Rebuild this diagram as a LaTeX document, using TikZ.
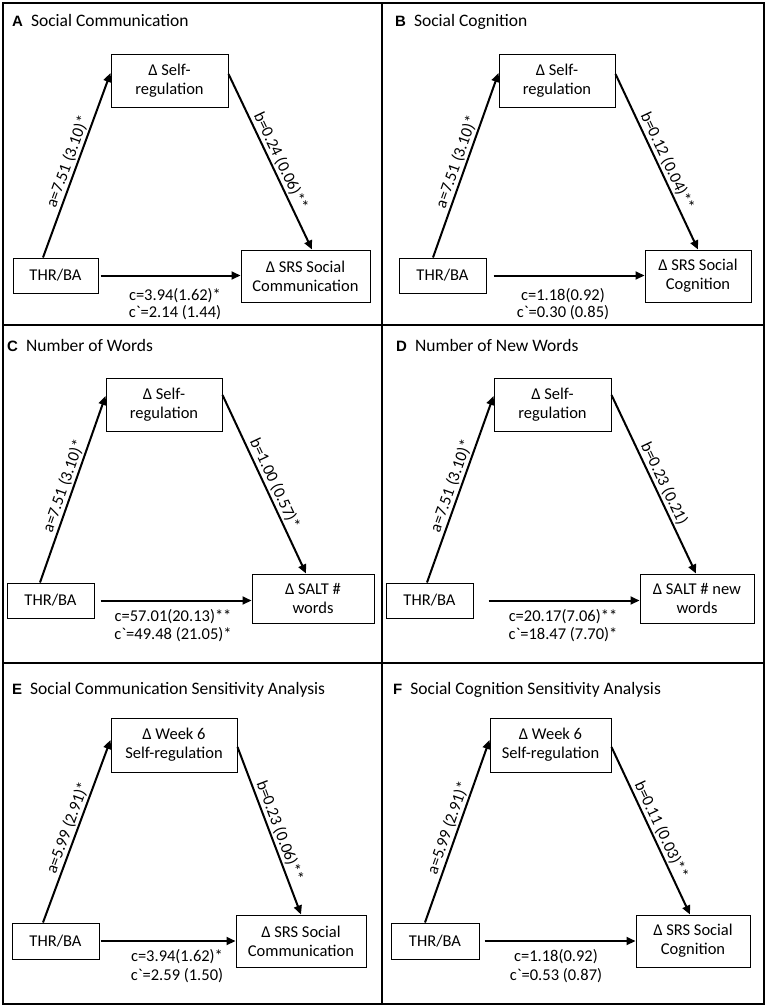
\documentclass[tikz,border=0pt]{standalone}
\usepackage{fontspec}
\setmainfont{Carlito}[Ligatures=TeXOff]
\newfontfamily\letfont{Liberation Sans}
\usetikzlibrary{arrows.meta}
\begin{document}
\begin{tikzpicture}[x=1pt,y=-1pt,
  box/.style={draw, line width=1pt, align=center, inner sep=0pt, font=\fontsize{16.5}{19}\selectfont},
  arr/.style={line width=2pt, -{Triangle[length=9pt,width=8pt]}},
  lab/.style={sloped, above, inner sep=1.5pt, font=\fontsize{16.5}{19.5}\selectfont},
  clab/.style={inner sep=0pt, font=\fontsize{16.5}{19.5}\selectfont},
  ttl/.style={anchor=base west, inner sep=0pt, font=\fontsize{17.5}{20}\selectfont},
  frame/.style={line width=1.5pt}]
\useasboundingbox (0,0) rectangle (767,1007);
% frame
\draw[frame] (3,3) rectangle (764,1004);
\draw[frame] (382,3) -- (382,1004);
\draw[frame] (3,325) -- (764,325);
\draw[frame] (3,663) -- (764,663);
\newcommand\tl[1]{{\letfont\fontsize{15}{17}\selectfont\bfseries #1}\hspace{8pt}}
% ===== A =====
\node[ttl] (tA) at (12,26) {\tl{A}Social Communication};
\node[box, minimum width=117pt, minimum height=53pt] (ma) at (169.5,80.5) {Δ Self-\\regulation};
\node[box, minimum width=85pt, minimum height=35pt] (ta) at (55.5,275.5) {THR/BA};
\node[box, minimum width=129pt, minimum height=52pt] (oa) at (305.5,276) {Δ SRS Social\\Communication};
\draw[arr] ([xshift=-12.5pt]ta.north) -- ([yshift=7.5pt]ma.west) node[lab,pos=0.5] (la) {a=7.51 (3.10)*};
\draw[arr] ([yshift=6.5pt]ma.east) -- ([xshift=6.5pt]oa.north) node[lab,pos=0.52] (lb) {b=0.24 (0.06)**};
\draw[arr, shorten <=2pt] (ta.east) -- (ta.east -| oa.west);
\node[clab] (ca1) at (175,296) {c=3.94(1.62)*};
\node[clab] (ca2) at (175,313) {c`=2.14 (1.44)};
% ===== B =====
\node[ttl] (tB) at (395,26) {\tl{B}Social Cognition};
\node[box, minimum width=116pt, minimum height=53pt] (mb) at (557,80.5) {Δ Self-\\regulation};
\node[box, minimum width=87pt, minimum height=35pt] (tb) at (442.5,275.5) {THR/BA};
\node[box, minimum width=106pt, minimum height=52pt] (ob) at (698,276) {Δ SRS Social\\Cognition};
\draw[arr] ([xshift=-9.5pt]tb.north) -- ([yshift=7.5pt]mb.west) node[lab,pos=0.5] (lbA) {a=7.51 (3.10)*};
\draw[arr] ([yshift=6.5pt]mb.east) -- (ob.north) node[lab,pos=0.52] (lbB) {b=0.12 (0.04)**};
\draw[arr, shorten <=7pt] (tb.east) -- (tb.east -| ob.west);
\node[clab] (cb1) at (563,296) {c=1.18(0.92)};
\node[clab] (cb2) at (563,313) {c`=0.30 (0.85)};
% ===== C =====
\node[ttl] (tC) at (7,351) {\tl{C}Number of Words};
\node[box, minimum width=116pt, minimum height=53pt] (mc) at (164,404.5) {Δ Self-\\regulation};
\node[box, minimum width=87pt, minimum height=35pt] (tc) at (50.5,600.5) {THR/BA};
\node[box, minimum width=122pt, minimum height=49pt] (oc) at (313,598.5) {Δ SALT \#\\words};
\draw[arr] ([xshift=-10.5pt]tc.north) -- ([yshift=8.5pt]mc.west) node[lab,pos=0.5] (lcA) {a=7.51 (3.10)*};
\draw[arr] ([yshift=9.5pt]mc.east) -- ([xshift=-7pt]oc.north) node[lab,pos=0.52] (lcB) {b=1.00 (0.57)*};
\draw[arr, shorten <=6pt] (tc.east) -- (tc.east -| oc.west);
\node[clab] (cc1) at (173,617) {c=57.01(20.13)**};
\node[clab] (cc2) at (173,635) {c`=49.48 (21.05)*};
% ===== D =====
\node[ttl] (tD) at (396,351) {\tl{D}Number of New Words};
\node[box, minimum width=117pt, minimum height=53pt] (md) at (552.5,404.5) {Δ Self-\\regulation};
\node[box, minimum width=87pt, minimum height=35pt] (td) at (429.5,600.5) {THR/BA};
\node[box, minimum width=114pt, minimum height=49pt] (od) at (697,598.5) {Δ SALT \# new\\words};
\draw[arr] ([xshift=-2.5pt]td.north) -- ([yshift=8.5pt]md.west) node[lab,pos=0.5] (ldA) {a=7.51 (3.10)*};
\draw[arr] ([yshift=9.5pt]md.east) -- ([xshift=-1pt]od.north) node[lab,pos=0.52] (ldB) {b=0.23 (0.21)};
\draw[arr, shorten <=15pt] (td.east) -- (td.east -| od.west);
\node[clab] (cd1) at (563,617) {c=20.17(7.06)**};
\node[clab] (cd2) at (563,635) {c`=18.47 (7.70)*};
% ===== E =====
\node[ttl] (tE) at (12,694) {\tl{E}Social Communication Sensitivity Analysis};
\node[box, minimum width=126pt, minimum height=54pt] (me) at (174,745) {Δ Week 6\\Self-regulation};
\node[box, minimum width=87pt, minimum height=36pt] (te) at (55.5,941) {THR/BA};
\node[box, minimum width=130pt, minimum height=52pt] (oe) at (301,941) {Δ SRS Social\\Communication};
\draw[arr] ([xshift=-12.5pt]te.north) -- ([yshift=5pt]me.west) node[lab,pos=0.5] (leA) {a=5.99 (2.91)*};
\draw[arr] ([yshift=-2pt]me.east) -- (oe.north) node[lab,pos=0.52] (leB) {b=0.23 (0.06)**};
\draw[arr, shorten <=1pt] (te.east) -- (te.east -| oe.west);
\node[clab] (ce1) at (177,957) {c=3.94(1.62)*};
\node[clab] (ce2) at (177,976) {c`=2.59 (1.50)};
% ===== F =====
\node[ttl] (tF) at (393,694) {\tl{F}Social Cognition Sensitivity Analysis};
\node[box, minimum width=121pt, minimum height=54pt] (mf) at (550.5,745) {Δ Week 6\\Self-regulation};
\node[box, minimum width=88pt, minimum height=36pt] (tf) at (435,941) {THR/BA};
\node[box, minimum width=114pt, minimum height=52pt] (of) at (693,941) {Δ SRS Social\\Cognition};
\draw[arr] ([xshift=-10pt]tf.north) -- ([yshift=5pt]mf.west) node[lab,pos=0.5] (lfA) {a=5.99 (2.91)*};
\draw[arr] ([yshift=-2pt]mf.east) -- ([xshift=-3pt]of.north) node[lab,pos=0.52] (lfB) {b=0.11 (0.03)**};
\draw[arr, shorten <=5pt] (tf.east) -- (tf.east -| of.west);
\node[clab] (cf1) at (556,957) {c=1.18(0.92)};
\node[clab] (cf2) at (556,976) {c`=0.53 (0.87)};
\end{tikzpicture}
\end{document}
